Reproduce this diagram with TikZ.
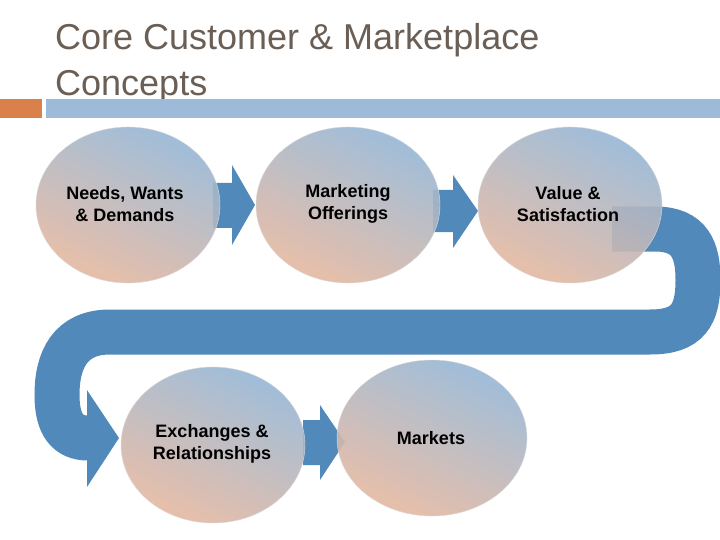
\documentclass[tikz,border=0pt]{standalone}
\usepackage{fontspec}
\setmainfont{Liberation Sans}
\begin{document}
\begin{tikzpicture}[x=1pt,y=-1pt,
  bubble/.style={draw=black!15,top color=topblue,bottom color=peach,shading angle=-25,fill opacity=0.9},
  lbl/.style={font=\fontsize{18}{22}\selectfont\bfseries,align=center,text=black}]
\definecolor{arrowblue}{HTML}{5289BB}
\definecolor{topblue}{HTML}{95B6D6}
\definecolor{peach}{HTML}{E6B9A0}
\definecolor{titlec}{HTML}{6B5F55}
\definecolor{barorange}{HTML}{D9804B}
\definecolor{barblue}{HTML}{9DBBD8}
\useasboundingbox (0,0) rectangle (720,540);
\fill[white] (0,0) rectangle (720,540);
\node[anchor=base west,inner sep=0,text=titlec,font=\fontsize{36}{40}\selectfont] (t1) at (55,50) {Core Customer \& Marketplace};
\node[anchor=base west,inner sep=0,text=titlec,font=\fontsize{36}{40}\selectfont] (t2) at (55,96) {Concepts};
\fill[barorange] (0,99) rectangle (42,118);
\fill[barblue] (46,99) rectangle (720,118);
% big band
\draw[arrowblue,line width=45pt,line cap=butt] (612,229) -- (655,229) .. controls (690,229) and (698,250) .. (698,280) .. controls (698,315) and (688,332) .. (650,332) -- (110,332) .. controls (70,332) and (57,360) .. (57,395) .. controls (57,425) and (68,438) .. (88,438);
\fill[arrowblue] (87,390) -- (119,438) -- (87,487) -- cycle;
% small arrows
\fill[arrowblue] (213,183) -- (232,183) -- (232,165) -- (255,205) -- (232,245) -- (232,228) -- (213,228) -- cycle;
\fill[arrowblue] (433,190) -- (453,190) -- (453,175) -- (478,211) -- (453,248) -- (453,232) -- (433,232) -- cycle;
\fill[arrowblue] (303,420) -- (320,420) -- (320,405) -- (345,442) -- (320,480) -- (320,465) -- (303,465) -- cycle;
% bubbles
\shade[bubble] (128,205) ellipse (92 and 78);
\shade[bubble] (348,205) ellipse (92 and 78);
\shade[bubble] (570,205) ellipse (92 and 78);
\shade[bubble] (213,445) ellipse (92 and 78);
\shade[bubble] (432,438) ellipse (95 and 78);
\node[lbl] (n1) at (125,204) {Needs, Wants\\\& Demands};
\node[lbl] (n2) at (348,204) {Marketing\\Offerings};
\node[lbl] (n3) at (568,204) {Value \&\\Satisfaction};
\node[lbl] (n4) at (212,444) {Exchanges \&\\Relationships};
\node[lbl] (n5) at (431,438) {Markets};
\end{tikzpicture}
\end{document}
